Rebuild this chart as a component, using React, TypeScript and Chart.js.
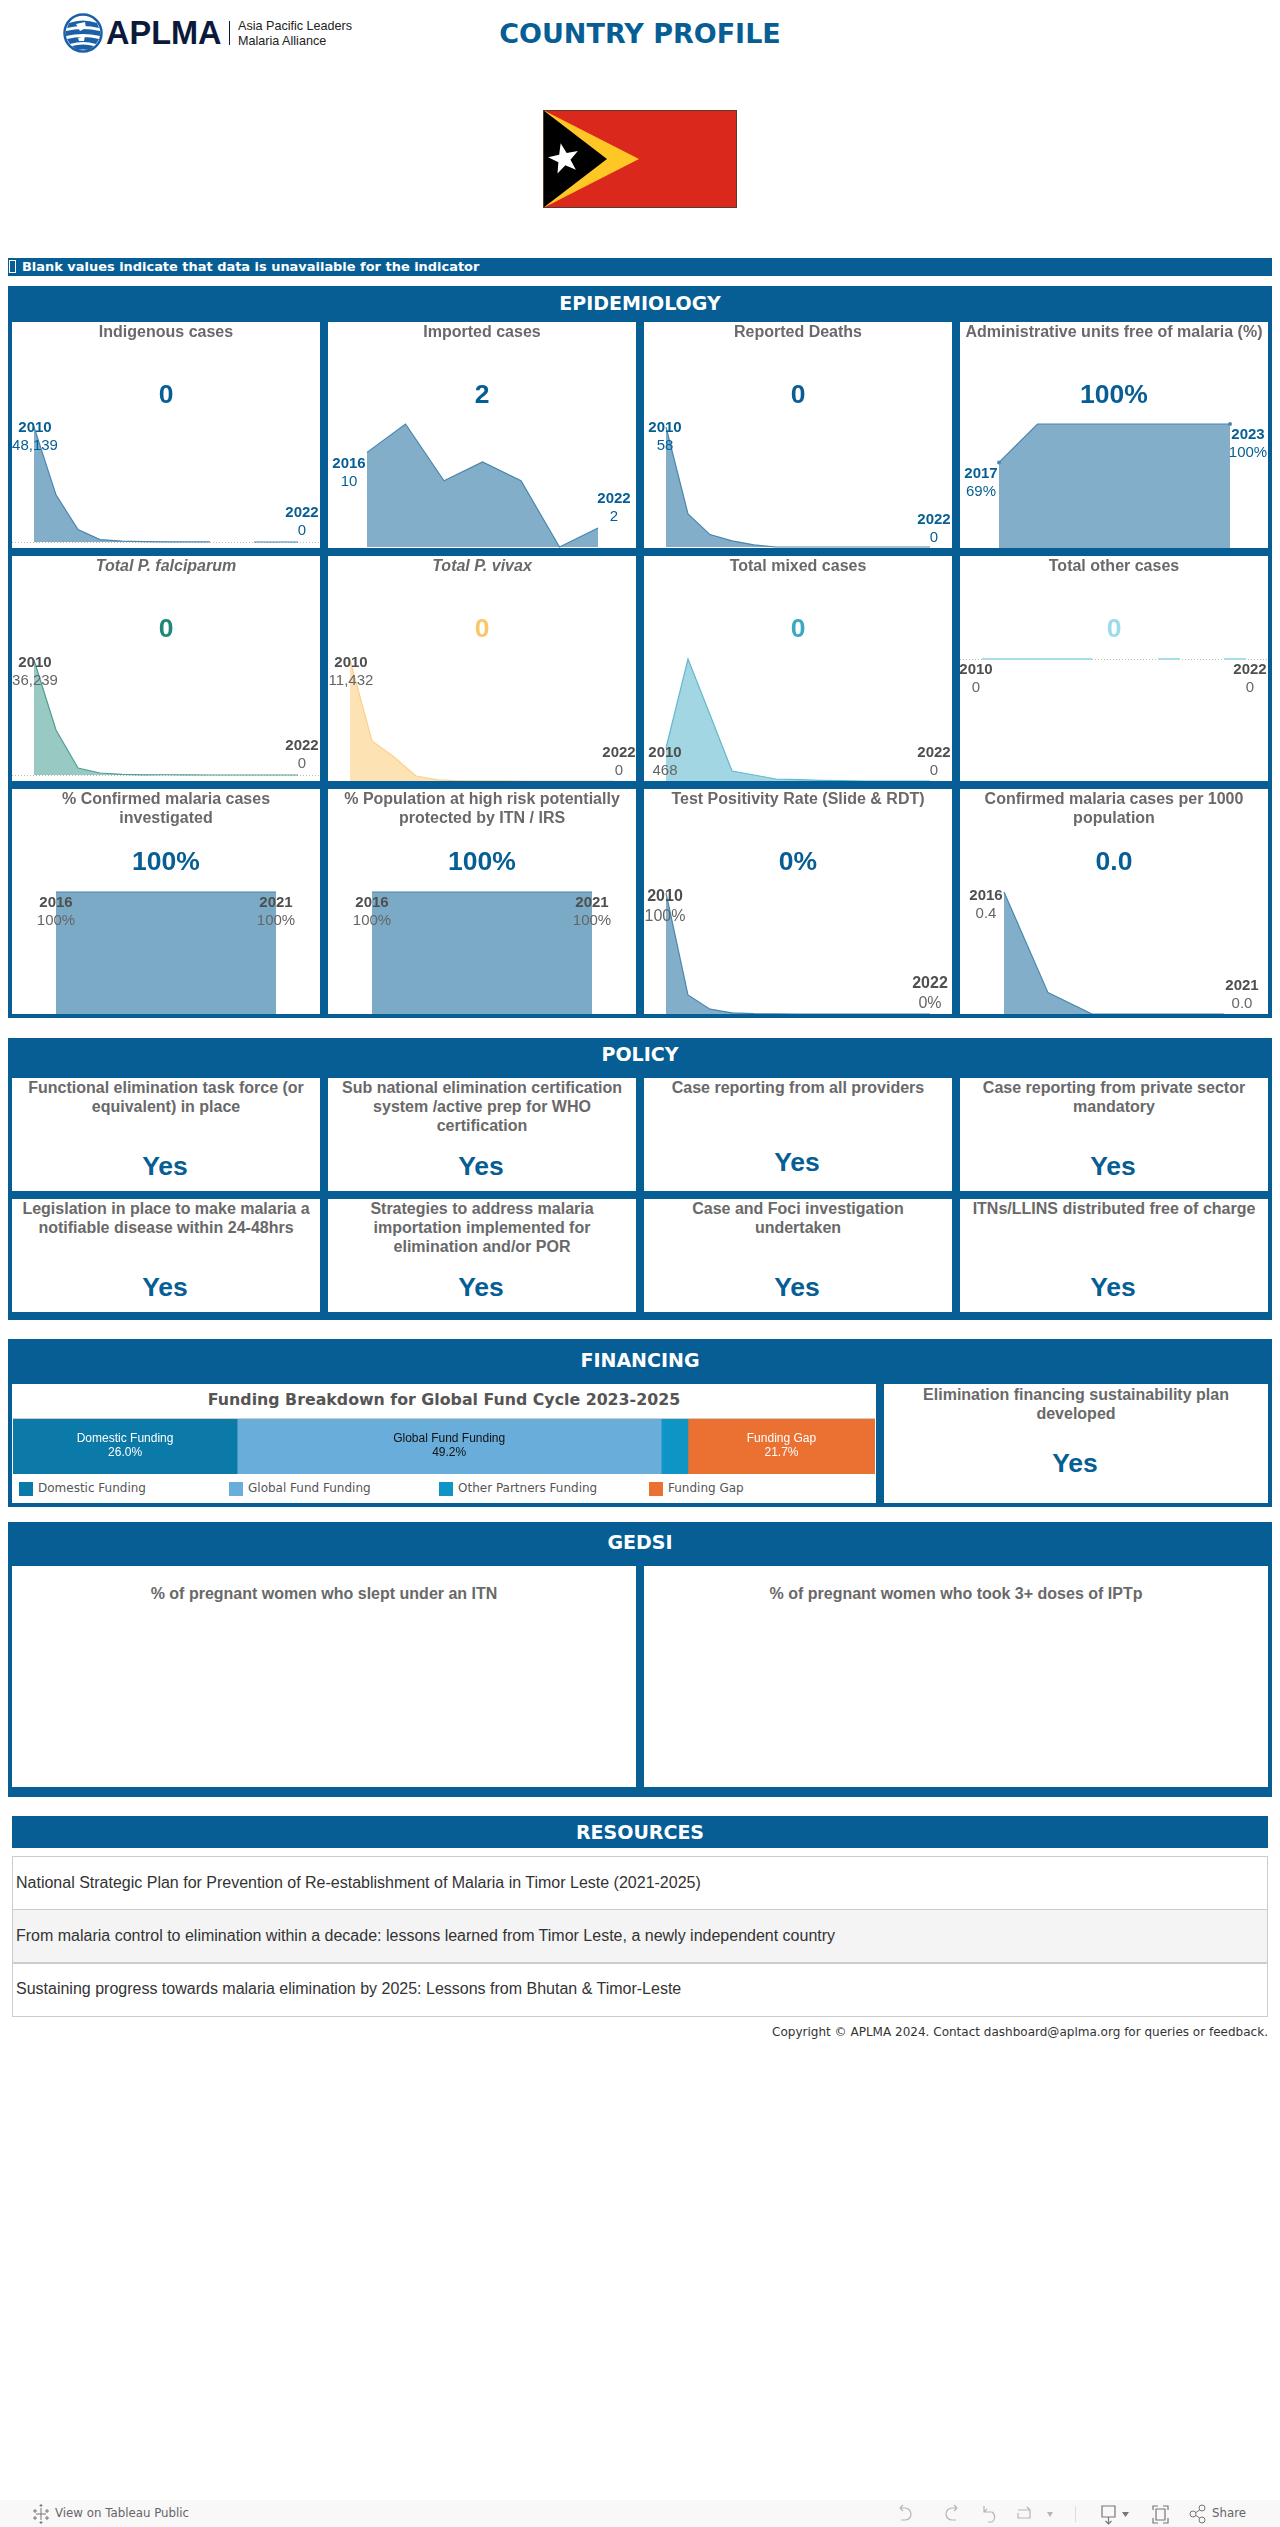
import React, { useEffect, useRef } from "react";
import { Chart, registerables } from "chart.js";

Chart.register(...registerables);

const BLUE = "#065e94";
const ARIAL = '"Liberation Sans", Arial, sans-serif';
const DEJAVU = '"DejaVu Sans", Verdana, sans-serif';

// ---------- data ----------
const yearsFull = ["2010","2011","2012","2013","2014","2015","2016","2017","2018","2019","2020","2021","2022"];
const years2016to2022 = ["2016","2017","2018","2019","2020","2021","2022"];
const years2017to2023 = ["2017","2018","2019","2020","2021","2022","2023"];
const years2016to2021 = ["2016","2017","2018","2019","2020","2021"];

const indigenous = [48139,19739,5208,1025,347,180,94,50,12,null,0,0,0];
const imported = [10,13,7,9,7,0,2];
const deaths = [58,16,6,3,1,0,0,0,0,0,0,0,0];
const adminFree = [69,100,100,100,100,100,100];
const falciparum = [36239,14180,2200,630,200,60,80,20,5,0,0,0,0];
const vivax = [11432,3780,2270,470,100,20,14,5,1,0,0,0,0];
const mixed = [468,1730,940,142,85,28,20,10,5,0,0,0,0];
const other = [0,0,0,0,0,0,null,null,0,0,null,0,0];
const investigated = [100,100,100,100,100,100];
const protectedPop = [100,100,100,100,100,100];
const positivity = [100,15.7,4,1,0.3,0.1,0,0,0,0,0,0,0];
const per1000 = [0.4,0.07,0,0,0,0];

const epiTitles = [
  "Indigenous cases","Imported cases","Reported Deaths","Administrative units free of malaria (%)",
  "Total P. falciparum","Total P. vivax","Total mixed cases","Total other cases",
  "% Confirmed malaria cases\ninvestigated","% Population at high risk potentially\nprotected by ITN / IRS","Test Positivity Rate (Slide & RDT)","Confirmed malaria cases per 1000\npopulation",
];
const epiKpis = ["0","2","0","100%","0","0","0","0","100%","100%","0%","0.0"];

const policyTitles = [
  "Functional elimination task force (or\nequivalent) in place",
  "Sub national elimination certification\nsystem /active prep for WHO\ncertification",
  "Case reporting from all providers",
  "Case reporting from private sector\nmandatory",
  "Legislation in place to make malaria a\nnotifiable disease within 24-48hrs",
  "Strategies to address malaria\nimportation implemented for\nelimination and/or POR",
  "Case and Foci investigation\nundertaken",
  "ITNs/LLINS distributed free of charge",
];
const policyValues = ["Yes","Yes","Yes","Yes","Yes","Yes","Yes","Yes"];

const fundingCategories = ["Domestic Funding","Global Fund Funding","Other Partners Funding","Funding Gap"];
const fundingShares = [26.0,49.2,3.1,21.7];
const fundingColors = ["#0b7aa8","#69aedb","#0e94c5","#ea7132"];
const fundingTextColors = ["#ffffff","#111111",null,"#ffffff"];

const resources = [
  "National Strategic Plan for Prevention of Re-establishment of Malaria in Timor Leste (2021-2025)",
  "From malaria control to elimination within a decade: lessons learned from Timor Leste, a newly independent country",
  "Sustaining progress towards malaria elimination by 2025: Lessons from Bhutan & Timor-Leste",
];

// ---------- layout ----------
const colX = [12,328,644,960];
const CARD_W = 308;
const rows = [{top:322,h:226},{top:556,h:225},{top:789,h:225}];

const GREY_Y = "#4f4f4f";
const GREY_V = "#666666";
type Fmt = "n"|"pct"|"dec";
type AreaCfg = {
  labels:string[]; data:(number|null)[]; x0:number; x1:number; top:number; base:number;
  color:string; fill:string; fmt:Fmt; yearColor:string; valueColor:string; kpiColor:string;
  start:[number,number]; end:[number,number]; zero?:boolean; flat?:boolean; dots?:boolean; size?:number; gap?:number; lw?:number;
};
const fillBlue = "rgba(6,94,148,0.5)";
const lineBlue = "#4a86ad";
const areas:AreaCfg[] = [
  {labels:yearsFull,data:indigenous,x0:34,x1:298,top:427,base:542,color:lineBlue,fill:fillBlue,fmt:"n",yearColor:BLUE,valueColor:BLUE,kpiColor:BLUE,start:[1,1],end:[4,-29],zero:true},
  {labels:years2016to2022,data:imported,x0:367,x1:598,top:424,base:547,color:lineBlue,fill:fillBlue,fmt:"n",yearColor:BLUE,valueColor:BLUE,kpiColor:BLUE,start:[-18,11],end:[16,-29]},
  {labels:yearsFull,data:deaths,x0:666,x1:930,top:427,base:547,color:lineBlue,fill:fillBlue,fmt:"n",yearColor:BLUE,valueColor:BLUE,kpiColor:BLUE,start:[-1,1],end:[4,-27]},
  {labels:years2017to2023,data:adminFree,x0:999,x1:1230,top:424,base:548,color:lineBlue,fill:fillBlue,fmt:"pct",yearColor:BLUE,valueColor:BLUE,kpiColor:BLUE,start:[-18,11],end:[18,11],dots:true},
  {labels:yearsFull,data:falciparum,x0:34,x1:298,top:660,base:775,color:"#4f9f92",fill:"rgba(27,135,120,0.45)",fmt:"n",yearColor:GREY_Y,valueColor:GREY_V,kpiColor:"#1a8a77",start:[1,3],end:[4,-29],zero:true},
  {labels:yearsFull,data:vivax,x0:350,x1:614,top:660,base:781,color:"#fdd08a",fill:"rgba(252,197,106,0.5)",fmt:"n",yearColor:GREY_Y,valueColor:GREY_V,kpiColor:"#fcc56a",start:[1,3],end:[5,-28]},
  {labels:yearsFull,data:mixed,x0:666,x1:930,top:659,base:781,color:"#62b9cd",fill:"rgba(58,169,194,0.48)",fmt:"n",yearColor:GREY_Y,valueColor:GREY_V,kpiColor:"#3aa9c2",start:[-1,5],end:[4,-28]},
  {labels:yearsFull,data:other,x0:982,x1:1246,top:659,base:781,color:"#a8dde9",fill:"rgba(154,220,233,0.5)",fmt:"n",yearColor:GREY_Y,valueColor:GREY_V,kpiColor:"#9adce9",start:[-6,11],end:[4,11],zero:true,flat:true,lw:2},
  {labels:years2016to2021,data:investigated,x0:56,x1:276,top:892,base:1014,color:"#4a86ad",fill:"rgba(6,94,148,0.53)",fmt:"pct",yearColor:GREY_Y,valueColor:GREY_V,kpiColor:BLUE,start:[0,11],end:[0,11]},
  {labels:years2016to2021,data:protectedPop,x0:372,x1:592,top:892,base:1014,color:"#4a86ad",fill:"rgba(6,94,148,0.53)",fmt:"pct",yearColor:GREY_Y,valueColor:GREY_V,kpiColor:BLUE,start:[0,11],end:[0,11]},
  {labels:yearsFull,data:positivity,x0:666,x1:930,top:893,base:1014,color:lineBlue,fill:fillBlue,fmt:"pct",yearColor:GREY_Y,valueColor:GREY_V,kpiColor:BLUE,start:[-1,4],end:[0,-30],size:16,gap:19.5},
  {labels:years2016to2021,data:per1000,x0:1004,x1:1224,top:892,base:1014,color:lineBlue,fill:fillBlue,fmt:"dec",yearColor:GREY_Y,valueColor:GREY_V,kpiColor:BLUE,start:[-18,4],end:[18,-28]},
];

function fmtValue(v:number, f:Fmt){
  if (f==="pct") return `${Math.round(v)}%`;
  if (f==="dec") return v.toFixed(1);
  return v.toLocaleString("en-US");
}

const areaLabelsPlugin = {
  id:"areaLabels",
  beforeDatasetsDraw(chart:any){
    const cfg:AreaCfg = chart.options.plugins.areaLabels.cfg;
    if(!cfg.zero) return;
    const y = chart.scales.y.getPixelForValue(0);
    const c = chart.ctx;
    c.save(); c.strokeStyle="#b9b9b9"; c.lineWidth=1; c.setLineDash([1,2]);
    c.beginPath(); c.moveTo(0,Math.round(y)+0.5); c.lineTo(chart.width,Math.round(y)+0.5); c.stroke(); c.restore();
  },
  afterDatasetsDraw(chart:any){
    const cfg:AreaCfg = chart.options.plugins.areaLabels.cfg;
    const pts = chart.getDatasetMeta(0).data;
    const c = chart.ctx;
    const size = cfg.size ?? 15;
    const gap = cfg.gap ?? 18;
    const draw = (i:number, off:[number,number])=>{
      const p = pts[i];
      const x = p.x+off[0], y = p.y+off[1];
      c.textAlign="center"; c.textBaseline="middle";
      c.fillStyle=cfg.yearColor; c.font=`bold ${size}px ${ARIAL}`;
      c.fillText(cfg.labels[i],x,y);
      c.fillStyle=cfg.valueColor; c.font=`${size}px ${ARIAL}`;
      c.fillText(fmtValue(cfg.data[i] as number,cfg.fmt),x,y+gap);
    };
    c.save();
    draw(0,cfg.start);
    draw(cfg.labels.length-1,cfg.end);
    c.restore();
  },
};

function AreaChart({cfg,cardX,cardY,cardH}:{cfg:AreaCfg;cardX:number;cardY:number;cardH:number}){
  const ref = useRef<HTMLCanvasElement>(null);
  useEffect(()=>{
    const last = cfg.labels.length-1;
    const ch = new Chart(ref.current as HTMLCanvasElement,{
      type:"line",
      data:{labels:cfg.labels,datasets:[{
        data:cfg.data as any,borderColor:cfg.color,backgroundColor:cfg.fill,borderWidth:cfg.lw ?? 1.2,
        fill:"origin",tension:0,spanGaps:false,clip:false as any,
        pointRadius:(ctx:any)=>cfg.dots&&(ctx.dataIndex===0||ctx.dataIndex===last)?2:0,
        pointBackgroundColor:cfg.color,pointBorderWidth:0,
      }]},
      options:{
        animation:false,responsive:false,maintainAspectRatio:false,events:[],
        layout:{autoPadding:false,padding:{left:cfg.x0-cardX,right:cardX+CARD_W-cfg.x1,top:cfg.top-cardY,bottom:cardY+cardH-cfg.base}},
        plugins:{legend:{display:false},tooltip:{enabled:false},areaLabels:{cfg}} as any,
        scales:{
          x:{type:"category",display:false,offset:false},
          y:cfg.flat?{display:false,min:-1,max:0}:{display:false,min:0,max:Math.max(...(cfg.data.filter(v=>v!==null) as number[]))},
        },
      },
      plugins:[areaLabelsPlugin],
    });
    return ()=>ch.destroy();
  },[]);
  return <canvas ref={ref} width={CARD_W} height={cardH} style={{position:"absolute",left:0,top:0}}/>;
}

const fundingLabelsPlugin = {
  id:"fundingLabels",
  afterDatasetsDraw(chart:any){
    const c = chart.ctx;
    c.save(); c.textAlign="center"; c.textBaseline="middle"; c.font=`12px ${ARIAL}`;
    chart.data.datasets.forEach((d:any,i:number)=>{
      const tc = fundingTextColors[i];
      if(!tc) return;
      const el = chart.getDatasetMeta(i).data[0];
      const x = (el.x+el.base)/2;
      c.fillStyle=tc;
      c.fillText(d.label,x,20);
      c.fillText(`${d.data[0].toFixed(1)}%`,x,34);
    });
    c.restore();
  },
};

function FundingBar(){
  const ref = useRef<HTMLCanvasElement>(null);
  useEffect(()=>{
    const ch = new Chart(ref.current as HTMLCanvasElement,{
      type:"bar",
      data:{labels:["Funding"],datasets:fundingCategories.map((c,i)=>({
        label:c,data:[fundingShares[i]],backgroundColor:fundingColors[i],borderWidth:0,barPercentage:1,categoryPercentage:1,
      }))},
      options:{
        indexAxis:"y",animation:false,responsive:false,maintainAspectRatio:false,events:[],
        plugins:{legend:{display:false},tooltip:{enabled:false}},
        scales:{x:{display:false,stacked:true,min:0,max:100},y:{display:false,stacked:true}},
      },
      plugins:[fundingLabelsPlugin],
    });
    return ()=>ch.destroy();
  },[]);
  return <canvas ref={ref} width={862} height={55} style={{position:"absolute",left:13,top:1419}}/>;
}

// ---------- small html helpers ----------
function Box({x,y,w,h,bg,children,style}:{x:number;y:number;w:number;h:number;bg?:string;children?:any;style?:any}){
  return <div style={{position:"absolute",left:x,top:y,width:w,height:h,background:bg,...style}}>{children}</div>;
}
function Txt({x,y,w,align="center",size,weight=400,color,family=ARIAL,lh,children,italic}:{x:number;y:number;w:number;align?:string;size:number;weight?:number;color:string;family?:string;lh?:number;children:any;italic?:boolean}){
  const l = lh ?? size*1.3;
  return <div style={{position:"absolute",left:x,top:y-l/2,width:w,textAlign:align as any,fontSize:size,fontWeight:weight,color,fontFamily:family,lineHeight:`${l}px`,whiteSpace:"pre",fontStyle:italic?"italic":"normal"}}>{children}</div>;
}
function CardTitle({x,y,w,text,italic}:{x:number;y:number;w:number;text:string;italic?:boolean}){
  return <Txt x={x} y={y} w={w} size={16} weight={700} color="#696969" lh={19} italic={italic}>{text}</Txt>;
}
function SectionHeader({x,y,w,text}:{x:number;y:number;w:number;text:string}){
  return <Txt x={x} y={y} w={w} size={19} weight={700} color="#ffffff" family={DEJAVU}>{text}</Txt>;
}

function Flag(){
  const pts:string[]=[];
  for(let i=0;i<10;i++){
    const r=i%2===0?16:6.5, a=(-102+i*36)*Math.PI/180;
    pts.push(`${21+r*Math.cos(a)},${49+r*Math.sin(a)}`);
  }
  return (
    <svg style={{position:"absolute",left:543,top:110}} width={194} height={98} viewBox="0 0 194 98">
      <rect x={0} y={0} width={194} height={98} fill="#da291c"/>
      <polygon points="0,0 96,49 0,98" fill="#ffc726"/>
      <polygon points="0,0 64,49 0,98" fill="#000000"/>
      <polygon points={pts.join(" ")} fill="#ffffff"/>
      <rect x={0.5} y={0.5} width={193} height={97} fill="none" stroke="#5a3a30"/>
    </svg>
  );
}

function Logo(){
  return (
    <>
      <svg style={{position:"absolute",left:63,top:13}} width={40} height={40} viewBox="0 0 40 40">
        <circle cx={20} cy={20} r={18.5} fill="#ffffff" stroke="#1b5fa8" strokeWidth={2.5}/>
        <path d="M6 10 Q20 5 34 10 L36 15 Q20 11 4 15 Z" fill="#1b5fa8"/>
        <path d="M3 18 Q20 14 37 18 L37 23 Q20 19 3 23 Z" fill="#1b5fa8"/>
        <path d="M4 26 Q20 22 36 26 L33 31 Q20 27 7 31 Z" fill="#1b5fa8"/>
        <path d="M9 33 Q20 30 31 33 L26 37 Q20 36 14 37 Z" fill="#1b5fa8"/>
        <path d="M13 11 L22 9 L23 15 L17 18 Z M15 25 L22 23 L21 28 L16 28 Z" fill="#ffffff"/>
      </svg>
      <Txt x={106} y={33} w={120} align="left" size={32.5} weight={700} color="#0b1a3b" lh={34}>APLMA</Txt>
      <Box x={229} y={21} w={1} h={24} bg="#0b1a3b"/>
      <Txt x={238} y={26} w={130} align="left" size={12.6} color="#222222">Asia Pacific Leaders</Txt>
      <Txt x={238} y={41} w={130} align="left" size={12.6} color="#222222">Malaria Alliance</Txt>
    </>
  );
}

const ic = {fill:"none",stroke:"#b5b5b5",strokeWidth:1.2};
function Footer(){
  return (
    <>
      <Box x={0} y={2500} w={1280} h={27} bg="#f8f8f8"/>
      <svg style={{position:"absolute",left:0,top:2500}} width={1280} height={27} viewBox="0 0 1280 27">
        <g stroke="#777" strokeWidth={1}>
          <path d="M41 8V20M36 14H46M35 9V13M33 11H37M47 9V13M45 11H49M35 16V20M33 18H37M47 16V20M45 18H49M41 4V7M39.5 5.5H42.5M41 21V24M39.5 22.5H42.5"/>
        </g>
        <path d="M900 8H905A6 6 0 0 1 905 20H901M900 8L903 5M900 8L903 11" {...ic}/>
        <path d="M957 8H952A6 6 0 0 0 952 20H956M957 8L954 5M957 8L954 11" {...ic}/>
        <path d="M984 6V12H992A6 6 0 0 1 992 22H988M984 12L987 9" {...ic}/>
        <path d="M1018 10H1030V18H1018V13M1030 10L1027 7" {...ic}/>
        <path d="M1047 12L1053 12L1050 17Z" fill="#b5b5b5"/>
        <path d="M1075.5 6V22" stroke="#ddd"/>
        <path d="M1102 6H1115V17H1102ZM1108.5 17V23M1105.5 21L1108.5 24L1111.5 21" fill="none" stroke="#777" strokeWidth={1.2}/>
        <path d="M1122 12L1129 12L1125.5 17Z" fill="#777"/>
        <path d="M1153 10V6H1158M1163 6H1168V10M1168 18V23H1163M1158 23H1153V18M1156 9H1165V20H1156Z" fill="none" stroke="#777" strokeWidth={1.2}/>
        <circle cx={1193} cy={14} r={3} fill="none" stroke="#777"/>
        <circle cx={1202} cy={8} r={3} fill="none" stroke="#777"/>
        <circle cx={1202} cy={20} r={3} fill="none" stroke="#777"/>
        <path d="M1196 12.5L1199.5 10M1196 15.5L1199.5 18" stroke="#777"/>
      </svg>
      <Txt x={55} y={2514} w={200} align="left" size={11.8} color="#666666" family={DEJAVU}>View on Tableau Public</Txt>
      <Txt x={1212} y={2514} w={60} align="left" size={11.8} color="#666666" family={DEJAVU}>Share</Txt>
    </>
  );
}

export default function App(){
  const policyRows = [{top:1078,h:113},{top:1199,h:113}];
  return (
    <div style={{position:"absolute",left:0,top:0,width:1280,height:2527,overflow:"hidden",background:"#ffffff"}}>
      <Logo/>
      <Txt x={400} y={34} w={480} size={27} weight={700} color={BLUE} family={DEJAVU}>COUNTRY PROFILE</Txt>
      <Flag/>

      <Box x={8} y={258} w={1264} h={18} bg={BLUE}/>
      <Box x={9} y={260} w={7} h={13} style={{border:"1px solid #ffffff",boxSizing:"border-box"}}/>
      <Txt x={22} y={267} w={700} align="left" size={12.95} weight={700} color="#ffffff" family={DEJAVU}>Blank values indicate that data is unavailable for the indicator</Txt>

      {/* Epidemiology */}
      <Box x={8} y={286} w={1264} h={732} bg={BLUE}/>
      <SectionHeader x={8} y={303} w={1264} text="EPIDEMIOLOGY"/>
      {areas.map((cfg,i)=>{
        const r = rows[Math.floor(i/4)], x = colX[i%4];
        return (
          <Box key={i} x={x} y={r.top} w={CARD_W} h={r.h} bg="#ffffff">
            <AreaChart cfg={cfg} cardX={x} cardY={r.top} cardH={r.h}/>
            <CardTitle x={0} y={9.5} w={CARD_W} text={epiTitles[i]} italic={i===4||i===5}/>
            <Txt x={0} y={72} w={CARD_W} size={26.5} weight={700} color={cfg.kpiColor}>{epiKpis[i]}</Txt>
          </Box>
        );
      })}

      {/* Policy */}
      <Box x={8} y={1038} w={1264} h={282} bg={BLUE}/>
      <SectionHeader x={8} y={1054} w={1264} text="POLICY"/>
      {policyTitles.map((t,i)=>{
        const r = policyRows[Math.floor(i/4)], x = colX[i%4];
        return (
          <Box key={i} x={x} y={r.top} w={CARD_W} h={r.h} bg="#ffffff">
            <CardTitle x={0} y={9.5} w={CARD_W} text={t}/>
            <Txt x={-1} y={i===2?84:88} w={CARD_W} size={26.5} weight={700} color={BLUE}>{policyValues[i]}</Txt>
          </Box>
        );
      })}

      {/* Financing */}
      <Box x={8} y={1339} w={1264} h={168} bg={BLUE}/>
      <SectionHeader x={8} y={1360} w={1264} text="FINANCING"/>
      <Box x={12} y={1384} w={864} h={119} bg="#ffffff"/>
      <Txt x={12} y={1400} w={864} size={15.8} weight={700} color="#555555" family={DEJAVU}>Funding Breakdown for Global Fund Cycle 2023-2025</Txt>
      <Box x={13} y={1418} w={862} h={1} bg="#cccccc"/>
      <FundingBar/>
      {fundingCategories.map((c,i)=>(
        <React.Fragment key={c}>
          <Box x={19+i*210} y={1482} w={14} h={14} bg={fundingColors[i]}/>
          <Txt x={38+i*210} y={1489} w={180} align="left" size={12} color="#555555" family={DEJAVU}>{c}</Txt>
        </React.Fragment>
      ))}
      <Box x={884} y={1384} w={384} h={119} bg="#ffffff"/>
      <CardTitle x={884} y={1394} w={384} text={"Elimination financing sustainability plan\ndeveloped"}/>
      <Txt x={883} y={1463} w={384} size={26.5} weight={700} color={BLUE}>Yes</Txt>

      {/* GEDSI */}
      <Box x={8} y={1522} w={1264} h={275} bg={BLUE}/>
      <SectionHeader x={8} y={1542} w={1264} text="GEDSI"/>
      <Box x={12} y={1566} w={624} h={221} bg="#ffffff"/>
      <Box x={644} y={1566} w={624} h={221} bg="#ffffff"/>
      <CardTitle x={12} y={1593} w={624} text="% of pregnant women who slept under an ITN"/>
      <CardTitle x={644} y={1593} w={624} text="% of pregnant women who took 3+ doses of IPTp"/>

      {/* Resources */}
      <Box x={12} y={1816} w={1256} h={32} bg={BLUE}/>
      <SectionHeader x={12} y={1832} w={1256} text="RESOURCES"/>
      {resources.map((t,i)=>(
        <Box key={i} x={12} y={1856+i*53.33} w={1256} h={54} bg={i===1?"#f4f4f4":"#ffffff"} style={{border:"1px solid #cccccc",boxSizing:"border-box"}}>
          <Txt x={3} y={26} w={1200} align="left" size={16} color="#333333">{t}</Txt>
        </Box>
      ))}
      <Txt x={668} y={2033} w={600} align="right" size={12.03} color="#333333" family={DEJAVU}>Copyright © APLMA 2024. Contact dashboard@aplma.org for queries or feedback.</Txt>

      <Footer/>
    </div>
  );
}
